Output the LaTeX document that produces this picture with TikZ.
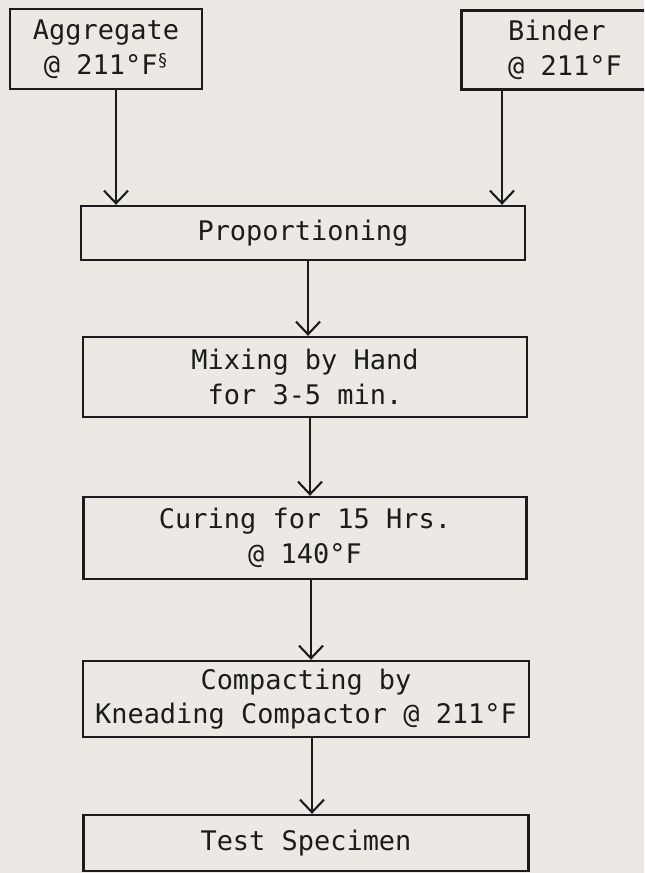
\documentclass[tikz,border=0pt]{standalone}
\usepackage{fontspec}
\newfontfamily\flowfont{DejaVu Sans Mono}
\usepackage{xcolor}
\definecolor{Paper}{HTML}{ECE8E3}
\definecolor{Ink}{HTML}{1C1C1C}
\usepackage{tikz}
\usetikzlibrary{arrows.meta, positioning}
\tikzset{
  stage/.style={
    rectangle, draw=Ink, line width=2pt,
    minimum width=#1, align=center,
    inner sep=0pt, text=Ink,
    font=\flowfont\fontsize{23}{29.5}\selectfont
  },
  stage/.default=13.32cm,
  arr/.style={-{Straight Barb[length=0.38cm, width=0.72cm, line width=1.8pt]}, line width=1.8pt, color=Ink},
}
\newcommand{\flowmark}{{\fontsize{15}{15}\selectfont\raisebox{0.42em}{§}}}

\begin{document}
\begin{tikzpicture}[x=0.03cm, y=-0.03cm]

\useasboundingbox[fill=Paper] (0,0) rectangle (644,873);
\clip (0,0) rectangle (644,873);

\node[stage=5.76cm, minimum height=2.4cm] at (106,49) (agg) {
  Aggregate\\
  @ 211°F\flowmark
};

\node[stage=6.2cm, minimum height=2.37cm, align=left] at (565,50) (bind) {
  Binder\\
  @ 211°F
};

\node[stage, minimum height=1.62cm] at (303,233) (prop) {Proportioning};

\node[stage, minimum height=2.4cm] at (305,377) (mix) {
  Mixing by Hand\\
  for 3-5 min.
};

\node[stage=13.29cm, minimum height=2.46cm] at (305,538) (cure) {
  Curing for 15 Hrs.\\
  @ 140°F
};

\node[stage=13.38cm, minimum height=2.28cm] at (306,699) (comp) {
  Compacting by\\
  Kneading Compactor @ 211°F
};

\node[stage=13.35cm, minimum height=1.68cm] at (306,843) (test) {Test Specimen};

\draw[arr] ([xshift=0.3cm]agg.south) -- ([xshift=0.3cm]agg.south |- prop.north);
\draw[arr] ([xshift=-1.89cm]bind.south) -- ([xshift=-1.89cm]bind.south |- prop.north);
\draw[arr] ([xshift=0.15cm]prop.south) -- ([xshift=0.15cm]prop.south |- mix.north);
\draw[arr] ([xshift=0.15cm]mix.south) -- ([xshift=0.15cm]mix.south |- cure.north);
\draw[arr] ([xshift=0.18cm]cure.south) -- ([xshift=0.18cm]cure.south |- comp.north);
\draw[arr] ([xshift=0.18cm]comp.south) -- ([xshift=0.18cm]comp.south |- test.north);

\end{tikzpicture}
\end{document}
